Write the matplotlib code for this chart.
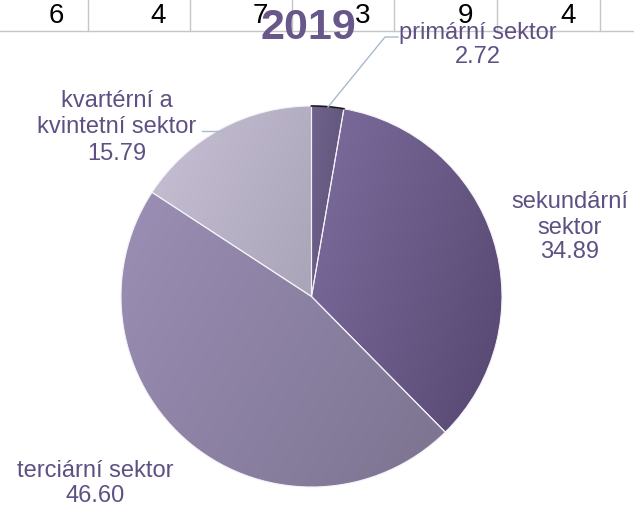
import numpy as np
import matplotlib
matplotlib.use("Agg")
import matplotlib.pyplot as plt
from matplotlib.colors import to_rgb

# ---- data ----
sectors = ["primární sektor", "sekundární\nsektor", "terciární sektor", "kvartérní a\nkvintetní sektor"]
values = [2.72, 34.89, 46.60, 15.79]
title = "2019"
sheet_numbers = ["6", "4", "7", "3", "9", "4"]

# ---- style ----
W, H = 634, 505
grad_colors = [("#70638b", "#5f5279"),
               ("#7d6d9e", "#554770"),
               ("#9b8fb5", "#7c7390"),
               ("#c8c1d6", "#aaa4b8")]
text_col = "#5f5083"
lab_font = ["Liberation Sans", "DejaVu Sans"]

fig = plt.figure(figsize=(W / 100, H / 100), dpi=100)
ax = fig.add_axes([0, 0, 1, 1])

def Y(p):
    return H - p

# spreadsheet background row
col_edges = [88, 190, 292, 394, 497, 600]
ax.plot([0, W], [Y(31), Y(31)], color="#c6c6c6", lw=1.0, zorder=0.5)
for x in col_edges:
    ax.plot([x, x], [Y(0), Y(31)], color="#c6c6c6", lw=1.0, zorder=0.5)
for x, s in zip(col_edges, sheet_numbers):
    ax.text(x - 24, Y(23), s, ha="right", va="baseline", fontsize=20,
            family=lab_font, color="black", zorder=0.6)

# pie
cx, cy, r = 311.5, Y(296.5), 190.5
wedges, _ = ax.pie(values, colors=[c[0] for c in grad_colors], startangle=90,
                   counterclock=False, center=(cx, cy), radius=r, frame=True,
                   wedgeprops=dict(edgecolor="#f4f2f8", linewidth=0.8))

for w, (c1, c2) in zip(wedges, grad_colors):
    bb = w.get_path().get_extents()
    x0, y0, x1, y1 = bb.x0, bb.y0, bb.x1, bb.y1
    n = 200
    xs = np.linspace(0, 1, n)
    ys = np.linspace(0, 1, n)
    X, Yg = np.meshgrid(xs, ys)  # Yg 0 bottom -> 1 top
    t = 0.65 * X + 0.35 * (1 - Yg)
    t = (t - t.min()) / (t.max() - t.min())
    a, b = np.array(to_rgb(c1)), np.array(to_rgb(c2))
    img = a[None, None, :] * (1 - t[..., None]) + b[None, None, :] * t[..., None]
    im = ax.imshow(img, extent=(x0, x1, y0, y1), origin="lower",
                   interpolation="bilinear", zorder=1.5)
    im.set_clip_path(w)
    w.set_facecolor("none")
    w.set_zorder(2)

# thin dark rim on the primary slice top
theta1, theta2 = wedges[0].theta1, wedges[0].theta2
th = np.radians(np.linspace(theta1, theta2, 30))
ax.plot(cx + r * np.cos(th), cy + r * np.sin(th), color="#1a1424", lw=1.2, zorder=2.5)

# leader lines
lead = "#a9b9cc"
ax.plot([398, 385, 328], [Y(37), Y(37), Y(107)], color=lead, lw=1.0, zorder=3)
ax.plot([202, 223], [Y(131), Y(131)], color=lead, lw=1.0, zorder=3)

# labels
label_specs = [
    (478, [39, 63]),
    (570, [208, 234, 258]),
    (95, [477, 502]),
    (117, [107, 133, 160]),
]
for (s, v), (x, bases) in zip(zip(sectors, values), label_specs):
    lines = s.split("\n") + [f"{v:.2f}"]
    for ln, yb in zip(lines, bases):
        ax.text(x, Y(yb), ln, ha="center", va="baseline", fontsize=17,
                family=lab_font, color=text_col, zorder=4)

# title
ax.text(308, Y(39), title, ha="center", va="baseline", fontsize=31,
        fontweight="bold", family=lab_font,
        color="#67578a", zorder=5)

ax.set_xlim(0, W)
ax.set_ylim(0, H)
ax.set_aspect("auto")
ax.axis("off")
fig.savefig("out.png", dpi=100)
